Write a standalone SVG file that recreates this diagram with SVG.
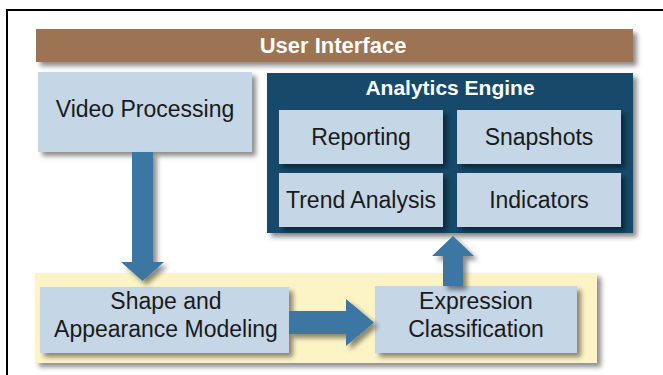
<svg xmlns="http://www.w3.org/2000/svg" width="663" height="375" viewBox="0 0 663 375">
<defs>
<filter id="sh" x="-10%" y="-10%" width="130%" height="140%">
<feDropShadow dx="4" dy="4" stdDeviation="2.5" flood-color="#000" flood-opacity="0.45"/>
</filter>
<style>
.box{fill:#c5d6e7;}
.t{font-family:"Liberation Sans",Arial,sans-serif;font-size:23px;fill:#1a1a1a;text-anchor:middle;}
.tb{font-family:"Liberation Sans",Arial,sans-serif;font-weight:bold;fill:#ffffff;text-anchor:middle;}
.arr{fill:#3b77a2;}
</style>
</defs>
<rect width="663" height="375" fill="#ffffff"/>
<path d="M7,375 V10 H663" fill="none" stroke="#000" stroke-width="2"/>

<g id="user-interface">
<rect x="36" y="29" width="597" height="33" fill="#9c7352" filter="url(#sh)"/>
<text class="tb" x="333" y="53" font-size="22">User Interface</text>
</g>

<g id="pipeline-area">
<rect x="35" y="273" width="562" height="90" fill="#fdf4c6" filter="url(#sh)"/>
</g>

<g id="video-processing">
<rect class="box" x="38" y="72" width="214" height="80" filter="url(#sh)"/>
<text class="t" x="145" y="117">Video Processing</text>
</g>

<g id="analytics-engine">
<rect x="267" y="73" width="366" height="160" fill="#17496b" filter="url(#sh)"/>
<text class="tb" x="450" y="95" font-size="21">Analytics Engine</text>
<g id="reporting">
<rect class="box" x="279" y="110" width="164" height="54" filter="url(#sh)"/>
<text class="t" x="361" y="145">Reporting</text>
</g>
<g id="snapshots">
<rect class="box" x="457" y="110" width="164" height="54" filter="url(#sh)"/>
<text class="t" x="539" y="145">Snapshots</text>
</g>
<g id="trend-analysis">
<rect class="box" x="279" y="173" width="164" height="54" filter="url(#sh)"/>
<text class="t" x="361" y="208">Trend Analysis</text>
</g>
<g id="indicators">
<rect class="box" x="457" y="173" width="164" height="54" filter="url(#sh)"/>
<text class="t" x="539" y="208">Indicators</text>
</g>
</g>

<g id="shape-appearance-modeling">
<rect class="box" x="40" y="287" width="249" height="66" filter="url(#sh)"/>
<text class="t" x="166" y="309">Shape and</text>
<text class="t" x="166" y="337">Appearance Modeling</text>
</g>

<g id="expression-classification">
<rect class="box" x="375" y="286" width="202" height="67" filter="url(#sh)"/>
<text class="t" x="476" y="309">Expression</text>
<text class="t" x="476" y="337">Classification</text>
</g>

<g id="connectors">
<polygon class="arr" filter="url(#sh)" points="132,152 153,152 153,262 164,262 142.5,281 121,262 132,262"/>
<polygon class="arr" filter="url(#sh)" points="289,311 346,311 346,299 374,322.5 346,346 346,334 289,334"/>
<polygon class="arr" filter="url(#sh)" points="443,286 443,256 432,256 453,236 474,256 463,256 463,286"/>
</g>
</svg>
